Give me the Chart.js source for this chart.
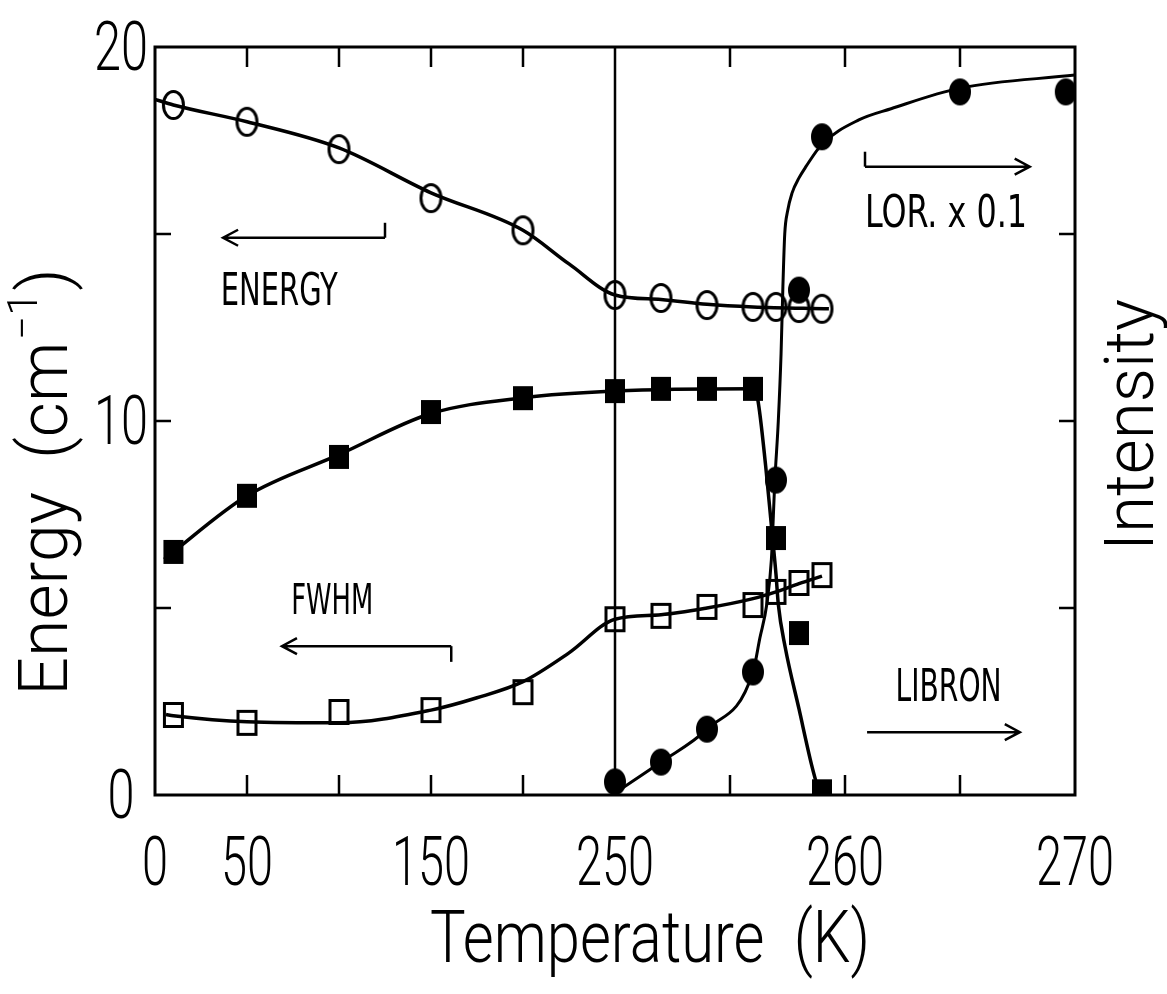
<!DOCTYPE html>
<html>
<head>
<meta charset="utf-8">
<title>Energy / Intensity vs Temperature</title>
<script src="https://cdn.jsdelivr.net/npm/chart.js@4.4.1/dist/chart.umd.min.js"></script>
<style>
html, body { margin: 0; padding: 0; background: #fff; }
canvas { display: block; }
</style>
</head>
<body>
<canvas id="chart" width="1167" height="994"></canvas>
<script>
// broken temperature axis: 0-250 K, then 250-270 K stretched
const xTickT = [0, 50, 100, 150, 200, 250, 255, 260, 265, 270];
const xTickLabels = ['0', '50', '', '150', '', '250', '', '260', '', '270'];
const yTicks = [0, 5, 10, 15, 20];
const yTickLabels = ['0', '', '10', '', '20'];

// measured points
const energyT = [10, 50, 100, 150, 200, 250, 252, 254, 256, 257, 258, 259];
const energyVal = [18.45, 18.0, 17.27, 15.96, 15.1, 13.37, 13.29, 13.1, 13.05, 13.05, 13.02, 13.0];
const fwhmT = [10, 50, 100, 150, 200, 250, 252, 254, 256, 257, 258, 259];
const fwhmVal = [2.14, 1.93, 2.22, 2.27, 2.75, 4.7, 4.79, 5.03, 5.08, 5.43, 5.67, 5.88];
const libronT = [10, 50, 100, 150, 200, 250, 252, 254, 256, 257, 258, 259];
const libronVal = [6.5, 8.0, 9.04, 10.24, 10.61, 10.8, 10.86, 10.86, 10.86, 6.87, 4.33, 0.1];
const lorT = [250, 252, 254, 256, 257, 258, 259, 265, 269.6];
const lorVal = [0.35, 0.88, 1.76, 3.29, 8.42, 13.5, 17.6, 18.8, 18.8];

// fitted curves
const energyFitT = [0, 10, 50, 100, 150, 200, 225, 250, 252, 254, 256, 259.3];
const energyFitVal = [18.6, 18.45, 18.0, 17.3, 16.1, 15.1, 14.2, 13.37, 13.25, 13.12, 13.05, 13.0];
const fwhmFitT = [6, 10, 50, 100, 150, 175, 200, 225, 250, 252, 254, 256, 257, 258, 259];
const fwhmFitVal = [2.15, 2.12, 1.96, 1.93, 2.27, 2.6, 3.03, 3.8, 4.7, 4.82, 5.0, 5.25, 5.43, 5.65, 5.85];
const libronFitT = [5, 10, 50, 100, 150, 200, 250, 256, 256.2, 256.55, 256.8, 257.0, 257.1, 257.4, 258.0, 258.55, 258.9];
const libronFitVal = [6.3, 6.5, 8.0, 9.1, 10.2, 10.62, 10.8, 10.86, 10.6, 8.8, 7.2, 5.9, 5.1, 3.95, 2.3, 0.8, 0];
const lorFitT = [250, 252, 254, 256, 256.3, 256.6, 256.8, 256.95, 257.1, 257.22, 257.3, 257.38, 257.5, 257.7, 258.0, 258.3, 259.0, 260.6, 262, 265, 270];
const lorFitVal = [0.05, 0.88, 1.76, 3.29, 4.2, 5.1, 6.3, 8.4, 10.0, 11.8, 13.6, 15.0, 15.6, 16.1, 16.5, 16.8, 17.4, 18.05, 18.35, 18.9, 19.25];

const COND = '"DejaVu Sans Condensed", "Liberation Sans Narrow", sans-serif';
const LIGHT = 'Roboto, "Liberation Sans", sans-serif';

function toU(t) {
    return t <= 250 ? t : 250 + (t - 250) * 12.5;
}
function pts(ts, vs) {
    return ts.map((t, i) => ({ x: toU(t), y: vs[i] }));
}

// scanned markers are a bit taller than wide
function marker(shape, w, h, filled) {
    const c = document.createElement('canvas');
    c.width = w + 4;
    c.height = h + 4;
    const g = c.getContext('2d');
    g.lineWidth = 3;
    g.strokeStyle = '#000';
    g.fillStyle = '#000';
    g.beginPath();
    if (shape === 'circle') {
        g.ellipse(c.width / 2, c.height / 2, w / 2 - 1.5, h / 2 - 1.5, 0, 0, Math.PI * 2);
    } else {
        g.rect(3.5, 3.5, w - 3, h - 3);
    }
    if (filled) g.fill();
    g.stroke();
    return c;
}

function markers(data, style) {
    return {
        data: data,
        showLine: false,
        pointStyle: style,
        pointRadius: 12,
        borderColor: '#000',
        backgroundColor: '#000'
    };
}
function curve(data, width) {
    return {
        data: data,
        showLine: true,
        pointRadius: 0,
        borderColor: '#000',
        borderWidth: width,
        cubicInterpolationMode: 'monotone'
    };
}

function arrow(ctx, x1, x2, yy) {
    const s = x2 > x1 ? 1 : -1;
    ctx.beginPath();
    ctx.moveTo(x1, yy);
    ctx.lineTo(x2, yy);
    ctx.moveTo(x2 - s * 15, yy - 8);
    ctx.lineTo(x2, yy);
    ctx.lineTo(x2 - s * 15, yy + 8);
    ctx.stroke();
}

const frame = {
    id: 'frame',
    afterDatasetsDraw(chart) {
        const ctx = chart.ctx;
        const a = chart.chartArea;
        const x = chart.scales.x, y = chart.scales.y;
        const px = t => x.getPixelForValue(toU(t));
        const py = v => y.getPixelForValue(v);
        ctx.save();
        ctx.strokeStyle = '#000';
        ctx.fillStyle = '#000';
        ctx.lineWidth = 3;
        ctx.strokeRect(a.left, a.top, a.right - a.left, a.bottom - a.top);

        // inward tick marks on all four sides
        ctx.lineWidth = 2.5;
        ctx.beginPath();
        xTickT.forEach(t => {
            if (t === 0 || t === 250 || t === 270) return;
            const xx = px(t);
            ctx.moveTo(xx, a.bottom); ctx.lineTo(xx, a.bottom - 20);
            ctx.moveTo(xx, a.top); ctx.lineTo(xx, a.top + 20);
        });
        yTicks.forEach(v => {
            if (v === 0 || v === 20) return;
            const yy = py(v);
            ctx.moveTo(a.left, yy); ctx.lineTo(a.left + 16, yy);
            ctx.moveTo(a.right, yy); ctx.lineTo(a.right - 16, yy);
        });
        ctx.stroke();

        // tick labels: tall, narrow digits as in the original
        ctx.font = '300 68px ' + LIGHT;
        ctx.textAlign = 'center';
        ctx.textBaseline = 'alphabetic';
        x.ticks.forEach((tk, i) => {
            const s = xTickLabels[i];
            if (s) ctx.fillText(s, x.getPixelForValue(tk.value), a.bottom + 90, s.length * 26);
        });
        y.ticks.forEach((tk, i) => {
            const s = yTickLabels[i];
            if (s) ctx.fillText(s, 121, y.getPixelForValue(tk.value) + 23, s.length * 27);
        });

        // annotations
        ctx.lineWidth = 2.5;
        ctx.textAlign = 'left';
        ctx.textBaseline = 'middle';
        ctx.font = '44px ' + COND;
        ctx.fillText('ENERGY', px(35.7), py(13.4), 117);
        arrow(ctx, px(125), px(37), py(14.9));
        ctx.beginPath(); ctx.moveTo(px(125), py(14.9)); ctx.lineTo(px(125), py(15.3)); ctx.stroke();

        ctx.font = '42px ' + COND;
        ctx.fillText('FWHM', px(74), py(5.13), 82);
        arrow(ctx, px(161), px(69), py(3.98));
        ctx.beginPath(); ctx.moveTo(px(161), py(3.98)); ctx.lineTo(px(161), py(3.56)); ctx.stroke();

        ctx.font = '44px ' + COND;
        ctx.fillText('LOR. x 0.1', px(260.87), py(15.5), 162);
        arrow(ctx, px(260.87), px(268.03), py(16.8));
        ctx.beginPath(); ctx.moveTo(px(260.87), py(16.8)); ctx.lineTo(px(260.87), py(17.2)); ctx.stroke();

        ctx.fillText('LIBRON', px(262.2), py(2.83), 106);
        arrow(ctx, px(260.96), px(267.6), py(1.68));

        // axis titles
        ctx.textAlign = 'center';
        ctx.textBaseline = 'alphabetic';
        ctx.font = '300 72px ' + LIGHT;
        ctx.fillText('Temperature  (K)', 650, 962, 440);

        ctx.save();
        ctx.translate(1153, 425);
        ctx.rotate(-Math.PI / 2);
        ctx.font = '300 68px ' + LIGHT;
        ctx.fillText('Intensity', 0, 0, 252);
        ctx.restore();

        ctx.save();
        ctx.translate(67, 482);
        ctx.rotate(-Math.PI / 2);
        ctx.textAlign = 'left';
        const big = '300 68px ' + LIGHT, small = '300 42px ' + LIGHT;
        ctx.font = big;
        const main = 'Energy  (cm';
        const wMain = ctx.measureText(main).width;
        const wEnd = ctx.measureText(')').width;
        ctx.font = small;
        const wSup = ctx.measureText('\u22121').width;
        let lx = -(wMain + wSup + wEnd + 4) / 2;
        ctx.font = big;
        ctx.fillText(main, lx, 0);
        lx += wMain + 2;
        ctx.font = small;
        ctx.fillText('\u22121', lx, -30);
        lx += wSup + 2;
        ctx.font = big;
        ctx.fillText(')', lx, 0);
        ctx.restore();

        ctx.restore();
    }
};

Chart.defaults.font.family = LIGHT;
Chart.defaults.color = '#000';

new Chart(document.getElementById('chart'), {
    type: 'scatter',
    data: {
        datasets: [
            markers(pts(energyT, energyVal), marker('circle', 23, 30, false)),
            markers(pts(fwhmT, fwhmVal), marker('rect', 21, 26, false)),
            Object.assign(markers(pts(libronT, libronVal), marker('rect', 20, 24, true)), { yAxisID: 'y2' }),
            Object.assign(markers(pts(lorT, lorVal), marker('circle', 22, 27, true)), { yAxisID: 'y2' }),
            curve(pts(energyFitT, energyFitVal), 3.5),
            curve(pts(fwhmFitT, fwhmFitVal), 3.5),
            Object.assign(curve(pts(libronFitT, libronFitVal), 3.5), { yAxisID: 'y2' }),
            Object.assign(curve(pts(lorFitT, lorFitVal), 3), { yAxisID: 'y2' }),
            // break of the temperature axis
            { data: [{ x: 250, y: 0 }, { x: 250, y: 20 }], showLine: true, pointRadius: 0, borderColor: '#000', borderWidth: 2.5 }
        ]
    },
    options: {
        responsive: false,
        animation: false,
        events: [],
        layout: { padding: { top: 47, left: 0, right: 0, bottom: 0 } },
        plugins: {
            legend: { display: false },
            tooltip: { enabled: false }
        },
        scales: {
            x: {
                type: 'linear',
                position: 'bottom',
                min: 0,
                max: 500,
                grid: { display: false, drawTicks: false },
                border: { display: false },
                afterBuildTicks: s => { s.ticks = xTickT.map(t => ({ value: toU(t) })); },
                afterFit: s => { s.height = 199; },
                ticks: { display: false }
            },
            y: {
                min: 0,
                max: 20,
                grid: { display: false, drawTicks: false },
                border: { display: false },
                afterBuildTicks: s => { s.ticks = yTicks.map(v => ({ value: v })); },
                afterFit: s => { s.width = 155; },
                ticks: { display: false }
            },
            y2: {
                position: 'right',
                min: 0,
                max: 20,
                grid: { display: false, drawTicks: false },
                border: { display: false },
                ticks: { display: false },
                afterFit: s => { s.width = 92; }
            }
        }
    },
    plugins: [frame]
});
</script>
</body>
</html>
